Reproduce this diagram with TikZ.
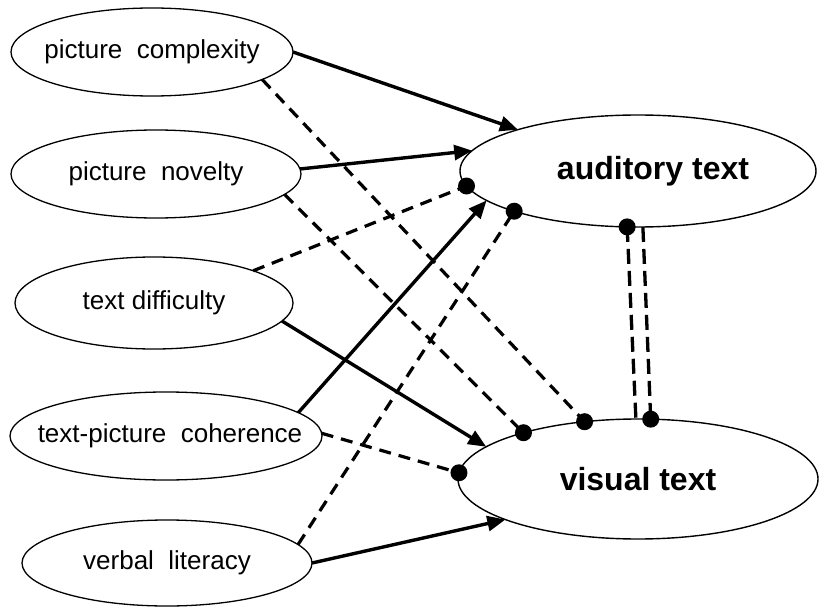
\documentclass[tikz,border=0pt]{standalone}
\usepackage{fontspec}
\setmainfont{Liberation Sans}
\usetikzlibrary{shapes.geometric,arrows.meta}
\begin{document}
\begin{tikzpicture}[x=1pt,y=-1pt,
  src/.style={ellipse,draw,line width=1.3pt,inner sep=0pt,outer sep=0pt,font=\fontsize{26}{30}\selectfont},
  tgt/.style={ellipse,draw,line width=1.4pt,inner sep=0pt,outer sep=0pt,font=\fontsize{32}{38}\selectfont\bfseries},
  solidarr/.style={line width=3.4pt,-{Triangle[length=18pt,width=15pt]}},
  dashline/.style={line width=3.2pt,dash pattern=on 12pt off 8pt},
  vdash/.style={line width=3.3pt,dash pattern=on 15pt off 7pt},
  dotmark/.style={fill=black}
]
\useasboundingbox (0,0) rectangle (822,607);
% source ellipses
\node[src,minimum width=282pt,minimum height=88pt] (pc) at (152,52) {\makebox[0pt]{picture\ \ complexity}};
\node[src,minimum width=290pt,minimum height=88pt] (pn) at (156,174) {\makebox[0pt]{picture\ \ novelty}};
\node[src,minimum width=278pt,minimum height=92pt] (td) at (154,303) {\makebox[0pt]{text difficulty}};
\node[src,minimum width=312pt,minimum height=88pt] (tpc) at (166,436) {\makebox[0pt]{\hspace*{8pt}text-picture\ \ coherence}};
\node[src,minimum width=290pt,minimum height=86pt] (vl) at (167,563) {\makebox[0pt]{verbal\ \ literacy}};
% target ellipses
\node[tgt,minimum width=356pt,minimum height=112pt] (aud) at (638,171) {\makebox[0pt]{\hspace*{30pt}auditory text}};
\node[tgt,minimum width=360pt,minimum height=120pt] (vis) at (638,479) {\makebox[0pt]{visual text}};
% solid arrows
\draw[solidarr] (pc.east) -- (aud.161.6);
\draw[solidarr] (pn.2) -- (aud.173.4);
\draw[solidarr] (td.-8.3) -- (vis.168);
\draw[solidarr] (tpc.10.3) -- (aud.191.3);
\draw[solidarr] (vl.east) -- (vis.197.2);
% dashed lines with dots
\draw[dashline] (pc.-14.3) -- (vis.133.6);
\draw[dashline] (pn.-9.4) -- (vis.158.2);
\draw[dashline] (td.18.4) -- (aud.185.5);
\draw[dashline] (tpc.1) -- (vis.178);
\draw[dashline] (vl.8.3) -- (aud.198.7);
\draw[vdash] (aud.259.7) -- (vis.92);
\draw[vdash] (aud.275) -- (vis.78.7);
% dots
\fill[dotmark] (vis.133.6) circle[radius=8.5pt];
\fill[dotmark] (vis.158.2) circle[radius=8.5pt];
\fill[dotmark] (aud.185.5) circle[radius=8.5pt];
\fill[dotmark] (vis.178) circle[radius=8.5pt];
\fill[dotmark] (aud.198.7) circle[radius=8.5pt];
\fill[dotmark] (aud.259.7) circle[radius=8.5pt];
\fill[dotmark] (vis.78.7) circle[radius=8.5pt];
\end{tikzpicture}
\end{document}
